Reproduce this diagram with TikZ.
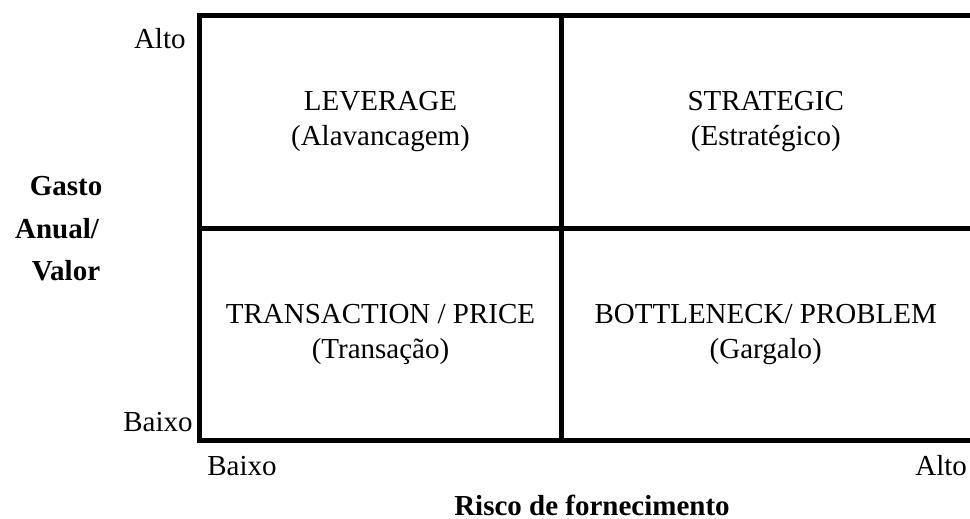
\documentclass[tikz,border=0pt]{standalone}
\usepackage{fontspec}
\setmainfont{Liberation Serif}
\tikzset{
  gridline/.style={line width=2.5pt,line join=miter},
  quadlabel/.style={align=center,inner sep=0pt,font=\fontsize{14.5}{17.5}\selectfont},
  axislabel/.style={inner sep=0pt,font=\fontsize{14.5}{17.4}\selectfont},
  axistitle/.style={inner sep=0pt,font=\bfseries\fontsize{14.5}{17.4}\selectfont}
}
\begin{document}
\begin{tikzpicture}[x=0.5pt,y=-0.5pt]
\useasboundingbox (0,0) rectangle (970,519);
\pgfmathsetmacro{\gridLeft}{199.5}
\pgfmathsetmacro{\gridRight}{970}
\pgfmathsetmacro{\gridSplit}{561.5}
\pgfmathsetmacro{\gridTop}{15.5}
\pgfmathsetmacro{\gridMid}{228.5}
\pgfmathsetmacro{\gridBottom}{440.5}

% Grid of the four quadrants (open on the right)
\draw[gridline] (\gridRight,\gridTop) -- (\gridLeft,\gridTop)
  -- (\gridLeft,\gridBottom) -- (\gridRight,\gridBottom);
\draw[gridline] (\gridLeft,\gridMid) -- (\gridRight,\gridMid);
\draw[gridline] (\gridSplit,\gridTop) -- (\gridSplit,\gridBottom);

% Quadrant labels
\node[quadlabel] (leverage) at (380.5,122) {LEVERAGE\\(Alavancagem)};
\node[quadlabel] (strategic) at (765.75,122) {STRATEGIC\\(Estratégico)};
\node[quadlabel] (transaction) at (380.5,334.5) {TRANSACTION / PRICE\\(Transação)};
\node[quadlabel] (bottleneck) at (765.75,334.5) {BOTTLENECK/ PROBLEM\\(Gargalo)};

% Axis ends
\node[axislabel,anchor=base east] (altoY) at (186,49) {Alto};
\node[axislabel,anchor=base east] (baixoY) at (193,431) {Baixo};
\node[axislabel,anchor=base west] (baixoX) at (207,475) {Baixo};
\node[axislabel,anchor=base west] (altoX) at (915,475) {Alto};

% Axis titles
\node[axistitle,anchor=base] (gasto) at (66,196) {Gasto};
\node[axistitle,anchor=base] (anual) at (57,239) {Anual/};
\node[axistitle,anchor=base] (valor) at (66,280) {Valor};
\node[axistitle,anchor=base] (risco) at (592,515) {Risco de fornecimento};
\end{tikzpicture}
\end{document}
